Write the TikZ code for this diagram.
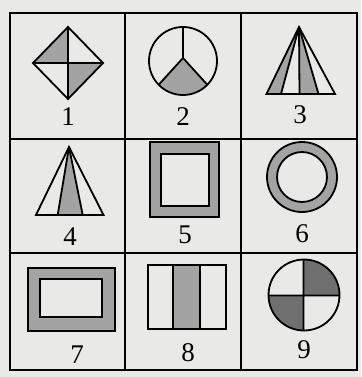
\documentclass[tikz,border=0pt]{standalone}
\usepackage{fontspec}
\setmainfont{Liberation Serif}
\definecolor{paper}{HTML}{E9E9E7}
\definecolor{greyfill}{HTML}{A3A3A3}
\definecolor{darkfill}{HTML}{6F6F6F}
\begin{document}
\begin{tikzpicture}[x=1pt,y=-1pt,
  fig/.style={line width=1.8pt, line join=miter},
  gridline/.style={line width=1.7pt},
  num/.style={font=\fontsize{27}{27}\selectfont, inner sep=0pt}]
\fill[paper] (0,0) rectangle (361,377);
\useasboundingbox (0,0) rectangle (361,377);
% grid
\draw[gridline] (10,13) rectangle (357,370);
\draw[gridline] (125,13) -- (125,370) (241,13) -- (241,370)
  (10,139) -- (357,139) (10,253) -- (357,253);
% 1: diamond
\fill[greyfill] (33,63) -- (68,27) -- (68,63) -- cycle;
\fill[greyfill] (103,63) -- (68,99) -- (68,63) -- cycle;
\draw[fig] (68,27) -- (103,63) -- (68,99) -- (33,63) -- cycle;
\draw[fig] (68,27) -- (68,99) (33,63) -- (103,63);
\node[num] (n1) at (68,117) {1};
% 2: circle with Y
\begin{scope}
  \clip (183,61) circle (34);
  \fill[greyfill] (183,58) -- (143,102) -- (223,102) -- cycle;
  \draw[fig] (183,58) -- (183,20) (183,58) -- (143,102) (183,58) -- (223,102);
\end{scope}
\draw[fig] (183,61) circle (34);
\node[num] (n2) at (183,117) {2};
% 3: triangle with three inner lines
\fill[greyfill] (299,27) -- (266.5,94) -- (281,94) -- cycle;
\fill[greyfill] (299,27) -- (299.5,94) -- (318.5,94) -- cycle;
\draw[fig] (299,27) -- (335,94) -- (266.5,94) -- cycle;
\draw[fig] (299,27) -- (281,94) (299,27) -- (299.5,94) (299,27) -- (318.5,94);
\node[num] (n3) at (300,115) {3};
% 4: triangle with two inner lines
\fill[greyfill] (69,147) -- (57.7,215) -- (82.7,215) -- cycle;
\draw[fig] (69,147) -- (103.5,215) -- (36,215) -- cycle;
\draw[fig] (69,147) -- (57.7,215) (69,147) -- (82.7,215);
\node[num] (n4) at (70,237) {4};
% 5: square frame
\fill[greyfill, even odd rule] (150,142) rectangle (219,217) (161,154) rectangle (209,206);
\draw[fig] (150,142) rectangle (219,217) (161,154) rectangle (209,206);
\node[num] (n5) at (185,235) {5};
% 6: ring
\fill[greyfill, even odd rule] (302,177) circle (35) (302,177) circle (25);
\draw[fig] (302,177) circle (35) (302,177) circle (25);
\node[num] (n6) at (302,233.5) {6};
% 7: rectangle frame
\fill[greyfill, even odd rule] (28,268) rectangle (115,331) (40,279) rectangle (102,317);
\draw[fig] (28,268) rectangle (115,331) (40,279) rectangle (102,317);
\node[num] (n7) at (77,355) {7};
% 8: three strips
\fill[greyfill] (173,265) rectangle (200,329);
\draw[fig] (148,265) rectangle (226,329) (173,265) -- (173,329) (200,265) -- (200,329);
\node[num] (n8) at (188,353) {8};
% 9: quartered circle
\begin{scope}
  \clip (304,295) circle (35.5);
  \fill[darkfill] (303.5,295.5) rectangle (345,255);
  \fill[darkfill] (303.5,295.5) rectangle (262,335);
\end{scope}
\draw[fig] (304,295) circle (35.5) (303.5,259.5) -- (303.5,330.5) (268.5,295.5) -- (339.5,295.5);
\node[num] (n9) at (304,350) {9};
\end{tikzpicture}
\end{document}
